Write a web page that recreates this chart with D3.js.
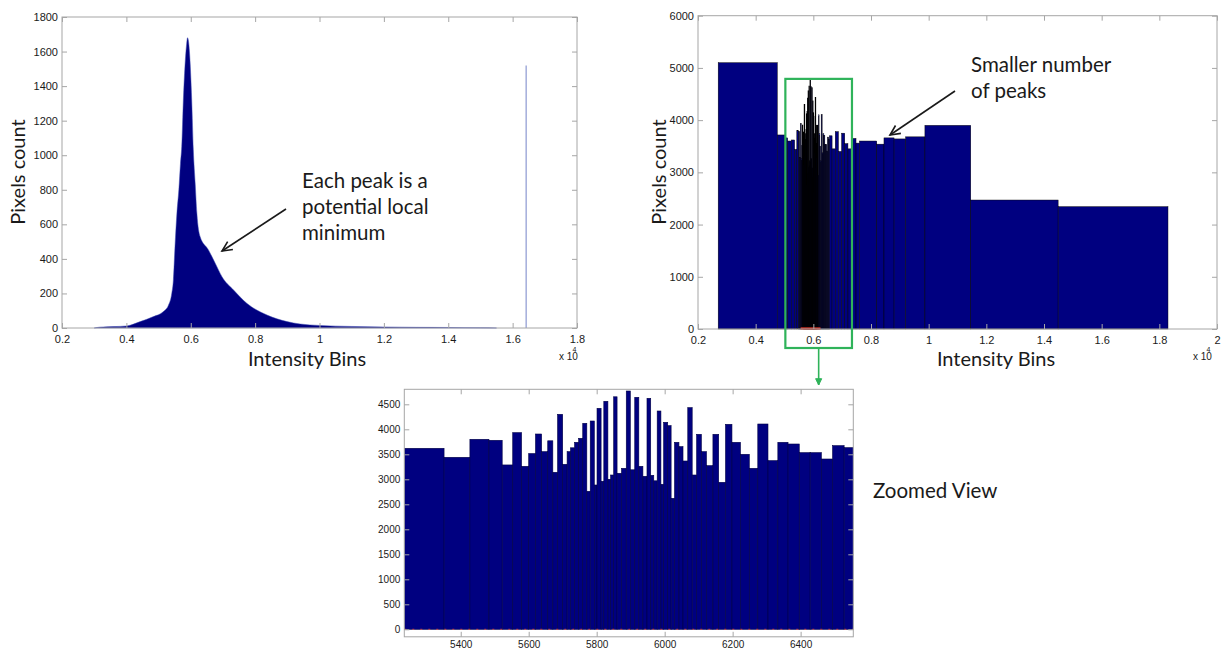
<!DOCTYPE html>
<html><head><meta charset="utf-8">
<script src="https://cdn.jsdelivr.net/npm/d3@7"></script>
<style>body{margin:0;background:#fff}</style>
</head><body>
<svg id="chart" width="1224" height="649"></svg>
<script>
// ---------------- DATA ----------------
// Left panel: full histogram (intensity, pixel count)
const leftBins = [3000,3180,3600,4010,4430,4840,5150,5310,5410,5460,5510,5570,5630,5680,5720,5770,5820,5870,5900,5930,5960,6030,6080,6140,6190,6290,6550,6760,6970,7330,7740,8370,8990,9400,10000,11000,12000,13000,14000,15000,15500];
const leftCounts = [0,5,8,12,37,66,95,133,200,278,470,665,800,950,1050,1320,1515,1640,1680,1660,1600,1320,1032,830,665,529,452,375,297,220,143,75,37,23,15,9,6,4,3,1,0];
const leftSpikeX = [16420];
const leftSpikeCount = [1519];
const leftXTicks = [2000,4000,6000,8000,10000,12000,14000,16000,18000];
const leftYTicks = [0,200,400,600,800,1000,1200,1400,1600,1800];

// Zoomed view bins (bin edges and counts)
const zoomEdges = [5234,5351,5427,5483,5522,5553,5579,5600,5620,5638,5656,5671,5685,5700,5713,5723,5735,5747,5759,5771,5781,5793,5801,5813,5821,5833,5841,5850,5860,5873,5887,5899,5912,5924,5936,5948,5959,5968,5978,5989,5997,6009,6019,6029,6042,6054,6068,6081,6094,6108,6123,6142,6159,6179,6198,6223,6249,6274,6304,6333,6363,6396,6428,6461,6494,6528,6555];
const zoomCounts = [3620,3440,3800,3780,3287,3933,3260,3515,3906,3553,3770,3140,4300,3300,3553,3630,3740,3820,4120,2760,4166,2886,4420,2960,4560,3000,3086,4650,3120,3220,4766,3190,4640,3260,3060,4620,3080,2970,4366,2900,4140,4073,2620,3740,3653,3366,4433,3086,3900,3553,3273,3900,2940,4100,3740,3500,3220,4106,3373,3740,3706,3533,3533,3406,3673,3633];
const zoomXTicks = [5400,5600,5800,6000,6200,6400];
const zoomYTicks = [0,500,1000,1500,2000,2500,3000,3500,4000,4500];

// Right panel: coarse bins outside the zoomed range
const coarseLeftEdges = [2700,4750,5018,5110,5234];
const coarseLeftCounts = [5100,3716,3660,3600];
const coarseRightEdges = [6555,6650,6760,6870,6980,7090,7200,7330,7480,7600,8200,8450,8800,9200,9870,11460,14490,18300];
const coarseRightCounts = [3700,3450,3780,3400,3750,3550,3450,3650,3560,3600,3540,3660,3640,3680,3900,2470,2343];
const rightXTicks = [2000,4000,6000,8000,10000,12000,14000,16000,18000,20000];
const rightYTicks = [0,1000,2000,3000,4000,5000,6000];
const redSegment = [5560,6250];

// ---------------- SETUP ----------------
const svg = d3.select('#chart');
svg.append('rect').attr('width',1224).attr('height',649).attr('fill','#fff');
const NAVY = '#000080';
const FRAME = '#a6a6a6';
const TICKFONT = '"Liberation Sans", Arial, sans-serif';
const TITLEFONT = 'Lato, "Open Sans", sans-serif';
const TXT = '#1a1a1a';
const fmt4 = d => String(+(d/10000).toFixed(1));

function bins(edges, counts){ return counts.map((c,i)=>({x0:edges[i],x1:edges[i+1],c})); }

function drawFrame(g, x, y, xTicks, yTicks, xFmt, fs, xPad, yPad){
  const [xa,xb] = x.range(), [ya,yb] = y.range();
  const style = sel => {
    sel.select('.domain').remove();
    sel.selectAll('line').attr('stroke',FRAME).attr('stroke-width',1);
    sel.selectAll('text').attr('fill',TXT).attr('font-size',fs).attr('font-family',TICKFONT);
  };
  g.append('g').attr('transform',`translate(0,${ya})`)
    .call(d3.axisBottom(x).tickValues(xTicks).tickSize(-5).tickPadding(xPad).tickFormat(xFmt)).call(style);
  g.append('g').attr('transform',`translate(0,${yb})`)
    .call(d3.axisTop(x).tickValues(xTicks).tickSize(-5).tickFormat('')).call(style);
  g.append('g').attr('transform',`translate(${xa},0)`)
    .call(d3.axisLeft(y).tickValues(yTicks).tickSize(-5).tickPadding(yPad).tickFormat(d3.format('d'))).call(style);
  g.append('g').attr('transform',`translate(${xb},0)`)
    .call(d3.axisRight(y).tickValues(yTicks).tickSize(-5).tickFormat('')).call(style);
  g.append('rect').attr('x',xa).attr('y',yb).attr('width',xb-xa).attr('height',ya-yb)
    .attr('fill','none').attr('stroke',FRAME).attr('stroke-width',1);
}

function arrow(g, x1,y1,x2,y2,color,w,head,filled){
  g.append('line').attr('x1',x1).attr('y1',y1).attr('x2',x2).attr('y2',y2)
    .attr('stroke',color).attr('stroke-width',w);
  const a = Math.atan2(y2-y1,x2-x1), s = 0.45;
  const p1=[x2-head*Math.cos(a-s), y2-head*Math.sin(a-s)];
  const p2=[x2-head*Math.cos(a+s), y2-head*Math.sin(a+s)];
  if(filled){
    g.append('path').attr('d',`M${p1}L${x2},${y2}L${p2}Z`).attr('fill',color).attr('stroke',color);
  } else {
    g.append('path').attr('d',`M${p1}L${x2},${y2}L${p2}`).attr('fill','none').attr('stroke',color).attr('stroke-width',w);
  }
}

function xLabel10(g, x, y){
  g.append('text').attr('x',x).attr('y',y).attr('font-family',TICKFONT).attr('font-size',10).attr('fill',TXT).text('x 10');
  g.append('text').attr('x',x+13.5).attr('y',y-8).attr('font-family',TICKFONT).attr('font-size',7).attr('fill',TXT).text('4');
}

// ---------------- LEFT PANEL ----------------
const gL = svg.append('g');
const xL = d3.scaleLinear().domain([2000,18000]).range([62,577]);
const yL = d3.scaleLinear().domain([0,1800]).range([328,17]);
const leftData = leftBins.map((b,i)=>({x:b,c:leftCounts[i]}));
gL.append('path').datum(leftData)
  .attr('d', d3.area().curve(d3.curveMonotoneX).x(d=>xL(d.x)).y0(yL(0)).y1(d=>yL(d.c)))
  .attr('fill',NAVY).attr('stroke','#3a48b0').attr('stroke-width',0.8).attr('stroke-opacity',0.6);
gL.selectAll('line.spike').data(leftSpikeX).join('line').attr('class','spike')
  .attr('x1',d=>xL(d)).attr('x2',d=>xL(d)).attr('y1',yL(0)).attr('y2',(d,i)=>yL(leftSpikeCount[i]))
  .attr('stroke','#8c98d2').attr('stroke-width',1.2);
drawFrame(gL,xL,yL,leftXTicks,leftYTicks,fmt4,11,7,4);
xLabel10(gL,559,360);

// ---------------- RIGHT PANEL ----------------
const gR = svg.append('g');
const xR = d3.scaleLinear().domain([2000,20000]).range([698,1217]);
const yR = d3.scaleLinear().domain([0,6000]).range([329,15.7]);
const rightBins = [...bins(coarseLeftEdges,coarseLeftCounts), ...bins(zoomEdges,zoomCounts), ...bins(coarseRightEdges,coarseRightCounts)];
gR.selectAll('rect.bar').data(rightBins).join('rect').attr('class','bar')
  .attr('x',d=>xR(d.x0)).attr('width',d=>xR(d.x1)-xR(d.x0))
  .attr('y',d=>yR(d.c)).attr('height',d=>yR(0)-yR(d.c))
  .attr('fill',NAVY).attr('stroke','#000')
  .attr('stroke-width',d=>(xR(d.x1)-xR(d.x0))<0.5?0.9:((xR(d.x1)-xR(d.x0))<1.2?0.6:0.45));
gR.append('line').attr('x1',xR(redSegment[0])).attr('x2',xR(redSegment[1]))
  .attr('y1',yR(0)-0.5).attr('y2',yR(0)-0.5).attr('stroke','#e03a2a').attr('stroke-width',2.5).attr('stroke-opacity',0.85);
drawFrame(gR,xR,yR,rightXTicks,rightYTicks,fmt4,11,7,4);
xLabel10(gR,1193,360);

// ---------------- ZOOMED PANEL ----------------
const gZ = svg.append('g');
const xZ = d3.scaleLinear().domain([5234,6555]).range([404.3,853.3]);
const yZ = d3.scaleLinear().domain([-150,4800]).range([636.8,389.3]);
svg.append('clipPath').attr('id','clipZ').append('rect')
  .attr('x',404.3).attr('y',389.3).attr('width',449).attr('height',247.5);
gZ.append('g').attr('clip-path','url(#clipZ)').selectAll('rect').data(bins(zoomEdges,zoomCounts)).join('rect')
  .attr('x',d=>xZ(d.x0)).attr('width',d=>xZ(d.x1)-xZ(d.x0))
  .attr('y',d=>yZ(d.c)).attr('height',d=>yZ(0)-yZ(d.c))
  .attr('fill',NAVY).attr('stroke','#000045').attr('stroke-width',0.6);
gZ.append('line').attr('x1',xZ(5234)).attr('x2',xZ(6555)).attr('y1',yZ(0)).attr('y2',yZ(0))
  .attr('stroke','#e04848').attr('stroke-width',1.2).attr('stroke-dasharray','2,6').attr('stroke-opacity',0.7);
drawFrame(gZ,xZ,yZ,zoomXTicks,zoomYTicks,d3.format('d'),10,4,4);

// ---------------- ANNOTATIONS ----------------
const ann = svg.append('g').attr('font-family',TITLEFONT).attr('fill',TXT);
// axis titles
ann.append('text').attr('transform','translate(25,172) rotate(-90)').attr('text-anchor','middle').attr('font-size',20).text('Pixels count');
ann.append('text').attr('transform','translate(666,172) rotate(-90)').attr('text-anchor','middle').attr('font-size',20).text('Pixels count');
ann.append('text').attr('x',307).attr('y',366).attr('text-anchor','middle').attr('font-size',20).text('Intensity Bins');
ann.append('text').attr('x',996).attr('y',366).attr('text-anchor','middle').attr('font-size',20).text('Intensity Bins');
// notes
[['Each peak is a',188],['potential local',214],['minimum',240]].forEach(([t,y])=>
  ann.append('text').attr('x',302).attr('y',y).attr('font-size',20.5).text(t));
[['Smaller number',72],['of peaks',98]].forEach(([t,y])=>
  ann.append('text').attr('x',971).attr('y',y).attr('font-size',20.5).text(t));
ann.append('text').attr('x',873).attr('y',498).attr('font-size',20.5).text('Zoomed View');

arrow(svg,286,209,222,251,'#1a1a1a',1.6,11,false);
arrow(svg,955,91,890,135,'#1a1a1a',1.6,11,false);

// green highlight box + arrow
const GREEN = '#2fb35a';
svg.append('rect').attr('x',xR(5030)).attr('y',yR(4790)).attr('width',xR(7340)-xR(5030)).attr('height',348-yR(4790))
  .attr('fill','none').attr('stroke',GREEN).attr('stroke-width',2.2);
arrow(svg,(xR(5030)+xR(7340))/2,348,(xR(5030)+xR(7340))/2,385,GREEN,1.6,7,true);
</script>
</body></html>
